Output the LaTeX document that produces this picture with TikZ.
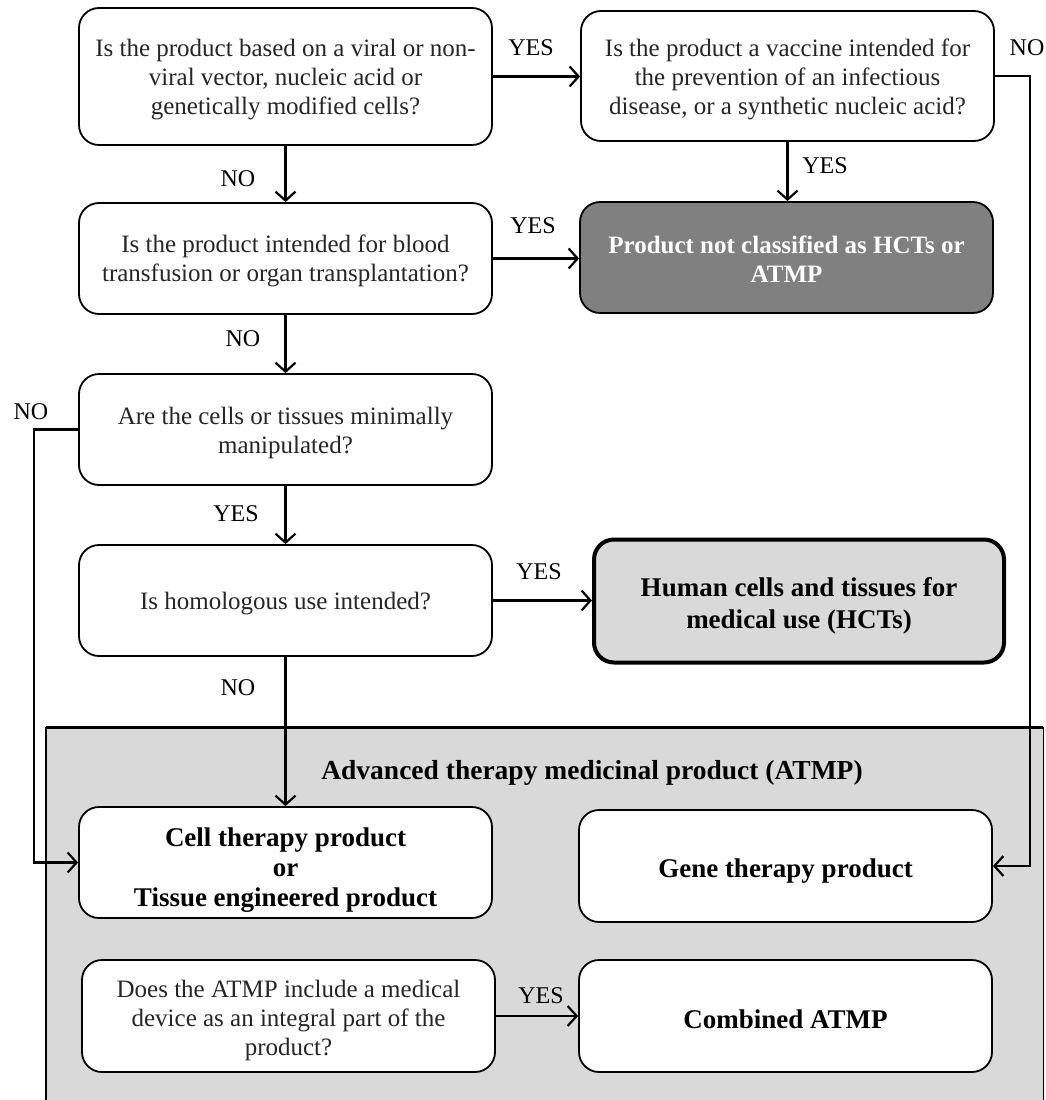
\documentclass[tikz,border=0pt]{standalone}
\usepackage{fontspec}
\setmainfont{Liberation Serif}
\usetikzlibrary{arrows.meta}
\definecolor{regiongray}{HTML}{D9D9D9}
\definecolor{darkbox}{HTML}{808080}
\definecolor{qtext}{HTML}{262626}
\newcommand{\topstrut}[1]{\rule{0pt}{#1}}
\tikzset{
  qbox/.style={draw=black, line width=1.8pt, rounded corners=20pt, fill=white,
    minimum width=413pt, inner sep=2pt, align=center, text=qtext,
    font=\fontsize{25}{29}\selectfont},
  outbox/.style={qbox, text=black, font=\fontsize{27}{30}\selectfont\bfseries},
  arr/.style={line width=2.2pt, -{Straight Barb[length=9pt,width=20pt,line width=2.2pt]}},
  lbl/.style={font=\fontsize{24}{26}\selectfont, text=black, inner sep=0pt},
}
\begin{document}
\begin{tikzpicture}[x=1pt,y=-1pt]
\clip (0,0) rectangle (1045,1100);
\fill[white] (0,0) rectangle (1045,1100);
% ATMP region
\node[fill=regiongray, minimum width=997pt, minimum height=400pt, inner sep=0pt, anchor=north west] (region) at (46,727) {};
\draw[line width=1.8pt] (region.north west) -- (region.south west);
\draw[line width=1.8pt] (region.north east) -- (region.south east);
\draw[line width=3pt] (region.north west) -- (region.north east);
\node[font=\fontsize{27.5}{30}\selectfont\bfseries] (title) at (592,773) {Advanced therapy medicinal product (ATMP)};

% boxes
\node[qbox, minimum height=137pt] (b1) at (285.5,76.5) {\topstrut{24pt}Is the product based on a viral or non-\\viral vector, nucleic acid or\\genetically modified cells?};
\node[qbox, minimum height=130pt] (b2) at (787.5,76) {\topstrut{24pt}Is the product a vaccine intended for\\the prevention of an infectious\\disease, or a synthetic nucleic acid?};
\node[qbox, minimum height=111pt] (b3) at (285.5,258.5) {\topstrut{22pt}Is the product intended for blood\\transfusion or organ transplantation?};
\node[qbox, minimum height=111pt, fill=darkbox, text=white, font=\fontsize{25}{29}\selectfont\bfseries] (b4) at (786.5,257.5) {\topstrut{20pt}Product not classified as HCTs or\\ATMP};
\node[qbox, minimum height=111pt] (b5) at (285.5,429.5) {\topstrut{24pt}Are the cells or tissues minimally\\manipulated?};
\node[qbox, minimum height=111pt] (b6) at (285.5,600.5) {\topstrut{24pt}Is homologous use intended?};
\node[outbox, minimum width=410pt, minimum height=123pt, line width=4pt, fill=regiongray, font=\fontsize{27}{32}\selectfont\bfseries] (b7) at (799,601) {\topstrut{29pt}Human cells and tissues for\\medical use (HCTs)};
\node[outbox, minimum height=111pt] (b8) at (285.5,862.5) {\topstrut{33pt}Cell therapy product\\or\\Tissue engineered product};
\node[outbox, minimum height=112pt] (b9) at (785.5,866) {\topstrut{29pt}Gene therapy product};
\node[qbox, minimum height=112pt] (b10) at (288.5,1016) {\topstrut{26pt}Does the ATMP include a medical\\device as an integral part of the\\product?};
\node[outbox, minimum height=112pt] (b11) at (785.5,1016) {\topstrut{25pt}Combined ATMP};

% routing coordinates
\coordinate (cR) at (1030,0);
\coordinate (cL) at (34,0);

% connectors
\draw[arr] (b1.east) -- (b1.east -| b2.west);
\draw[arr] (b2.south) -- (b2.south |- b4.north);
\draw[arr] (b1.south) -- (b3.north);
\draw[arr] (b3.east) -- (b3.east -| b4.west);
\draw[arr] (b3.south) -- (b5.north);
\draw[arr] (b5.south) -- (b6.north);
\draw[arr] (b6.east) -- (b6.east -| b7.west);
\draw[arr] (b6.south) -- (b8.north);
\draw[arr] (b10.east) -- (b10.east -| b11.west);
\draw[arr] (b2.east) -- (b2.east -| cR) -- (cR |- b9.east) -- (b9.east);
\draw[arr] (b5.west) -- (b5.west -| cL) -- (cL |- b8.west) -- (b8.west);

% labels
\node[lbl] (l1) at (531,48) {YES};
\node[lbl] (l2) at (1027,48) {NO};
\node[lbl] (l3) at (825,166) {YES};
\node[lbl] (l4) at (238,179) {NO};
\node[lbl] (l5) at (533,226) {YES};
\node[lbl] (l6) at (243,339) {NO};
\node[lbl] (l7) at (31,412) {NO};
\node[lbl] (l8) at (236,514) {YES};
\node[lbl] (l9) at (539,572) {YES};
\node[lbl] (l10) at (238,688) {NO};
\node[lbl] (l11) at (541,996) {YES};
\end{tikzpicture}
\end{document}
